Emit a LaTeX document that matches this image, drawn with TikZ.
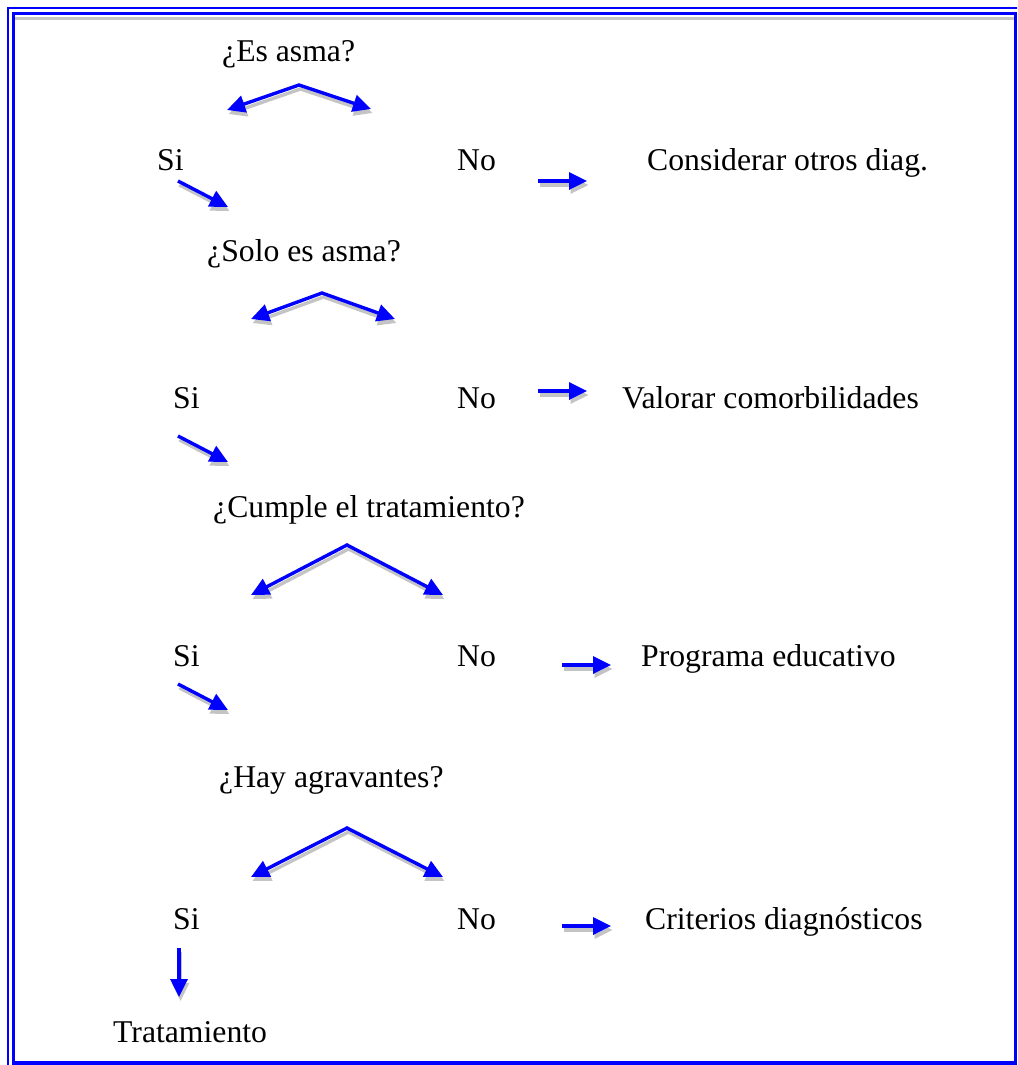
\documentclass[tikz,border=0pt]{standalone}
\usepackage{fontspec}
\setmainfont{Liberation Serif}
\usetikzlibrary{arrows.meta}
\definecolor{bblue}{RGB}{0,0,255}
\definecolor{shgray}{RGB}{196,196,196}
\tikzset{
  lbl/.style={inner sep=0pt, anchor=base west, font=\fontsize{31.7}{38}\selectfont},
  tipstyle/.style={-{Triangle[length=18pt,width=17pt]}},
  dtipstyle/.style={{Triangle[length=18pt,width=17pt]}-{Triangle[length=18pt,width=17pt]}},
  shadowline/.style={draw=shgray, line width=3.4pt, transform canvas={shift={(1.5,4)}}},
  blueline/.style={draw=bblue, line width=3.4pt},
}
\newcommand{\shadowarrow}[2]{%
  \draw[shadowline, tipstyle, shgray] (#1) -- (#2);
  \draw[blueline, tipstyle, bblue] (#1) -- (#2);}
\newcommand{\chevron}[3]{%
  \draw[shadowline, dtipstyle, shgray, line join=miter] (#1) -- (#2) -- (#3);
  \draw[blueline, dtipstyle, bblue, line join=miter] (#1) -- (#2) -- (#3);}
\begin{document}
\begin{tikzpicture}[x=1pt,y=-1pt]
\useasboundingbox (0,0) rectangle (1017,1065);
\begin{scope}
\clip (0,0) rectangle (1017,1065);
% page border (outer line runs off the page at right and bottom)
\draw[bblue, line width=2.6pt] (8,1066) -- (8,8) -- (1018,8);
\draw[bblue, line width=3.2pt] (13.7,13.8) -- (1015.6,13.8) -- (1015.6,1063) -- (13.7,1063) -- cycle;
\draw[shgray, line width=3pt] (15.4,18.8) -- (1013.9,18.8);
\end{scope}

% texts
\node[lbl] (q1) at (222,62) {¿Es asma?};
\node[lbl] (si1) at (157,170) {Si};
\node[lbl] (no1) at (457,170) {No};
\node[lbl] (r1) at (647,170) {Considerar otros diag.};

\node[lbl] (q2) at (207,261) {¿Solo es asma?};
\node[lbl] (si2) at (173,408) {Si};
\node[lbl] (no2) at (457,408) {No};
\node[lbl] (r2) at (622,408) {Valorar comorbilidades};

\node[lbl] (q3) at (213,517) {¿Cumple el tratamiento?};
\node[lbl] (si3) at (173,666) {Si};
\node[lbl] (no3) at (457,666) {No};
\node[lbl] (r3) at (641,666) {Programa educativo};

\node[lbl] (q4) at (219,787) {¿Hay agravantes?};
\node[lbl] (si4) at (173,929) {Si};
\node[lbl] (no4) at (457,929) {No};
\node[lbl] (r4) at (645,929) {Criterios diagnósticos};

\node[lbl] (tr) at (113,1042) {Tratamiento};

% arrow coordinates
\coordinate (c1l) at (227,110); \coordinate (c1a) at (299,85); \coordinate (c1r) at (371,109);
\coordinate (c2l) at (251,319); \coordinate (c2a) at (322,293); \coordinate (c2r) at (395,319);
\coordinate (c3l) at (251,595); \coordinate (c3a) at (347,545); \coordinate (c3r) at (443,595);
\coordinate (c4l) at (251,877); \coordinate (c4a) at (347,828); \coordinate (c4r) at (443,877);

\coordinate (h1s) at (538,181); \coordinate (h1e) at (587,181);
\coordinate (h2s) at (538,391); \coordinate (h2e) at (587,391);
\coordinate (h3s) at (562,665); \coordinate (h3e) at (611,665);
\coordinate (h4s) at (562,926); \coordinate (h4e) at (611,926);

\coordinate (d1s) at (178,181); \coordinate (d1e) at (228,207);
\coordinate (d2s) at (178,436); \coordinate (d2e) at (228,462);
\coordinate (d3s) at (178,684); \coordinate (d3e) at (228,710);
\coordinate (v4s) at (179,948); \coordinate (v4e) at (179,997);

\chevron{c1l}{c1a}{c1r}
\chevron{c2l}{c2a}{c2r}
\chevron{c3l}{c3a}{c3r}
\chevron{c4l}{c4a}{c4r}

\shadowarrow{h1s}{h1e}
\shadowarrow{h2s}{h2e}
\shadowarrow{h3s}{h3e}
\shadowarrow{h4s}{h4e}

\shadowarrow{d1s}{d1e}
\shadowarrow{d2s}{d2e}
\shadowarrow{d3s}{d3e}
\shadowarrow{v4s}{v4e}
\end{tikzpicture}
\end{document}
